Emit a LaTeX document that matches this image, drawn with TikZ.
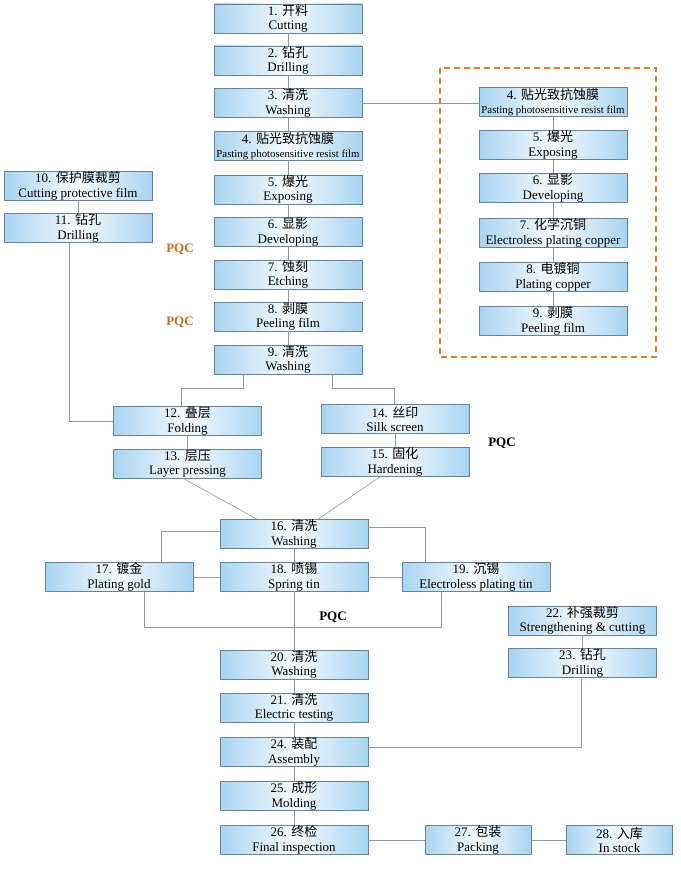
\documentclass[tikz,border=0pt]{standalone}
\usepackage{fontspec}
\setmainfont{Liberation Serif}
\newfontfamily\cjk{Noto Sans CJK SC}
\usepackage{tikz}
\usetikzlibrary{calc}
\definecolor{cajaazul}{RGB}{168,212,242}
\definecolor{cajaclaro}{RGB}{246,251,254}
\definecolor{cajaborde}{RGB}{105,130,155}
\definecolor{lineagris}{RGB}{140,152,164}
\definecolor{pqcnaranja}{RGB}{204,106,28}
\definecolor{marconaranja}{RGB}{226,124,40}
\newcommand{\zh}[1]{{\cjk #1}}

\begin{document}
\begin{tikzpicture}[x=1pt, y=1pt, line width=0.6pt,
    caja/.style={draw=cajaborde, left color=cajaazul, right color=cajaazul, middle color=cajaclaro,
      minimum width=148pt, minimum height=29pt, inner sep=0pt, align=center,
      font=\fontsize{13}{14.5}\selectfont},
    cajacorta/.style={caja, minimum width=106pt},
    enlace/.style={draw=lineagris},
    pqc/.style={font=\fontsize{13}{13}\selectfont\bfseries}]
    \useasboundingbox (0,0) rectangle (680,-880);
    \node[caja] (s1) at (288,-18.5) {1. \zh{开料}\\Cutting};
    \node[caja] (s2) at (288,-60.5) {2. \zh{钻孔}\\Drilling};
    \node[caja] (s3) at (288,-103) {3. \zh{清洗}\\Washing};
    \node[caja] (s4) at (288,-146) {4. \zh{贴光致抗蚀膜}\\{\fontsize{10.8}{14.5}\selectfont Pasting photosensitive resist film}};
    \node[caja] (s5) at (288,-189.5) {5. \zh{爆光}\\Exposing};
    \node[caja] (s6) at (288,-232) {6. \zh{显影}\\Developing};
    \node[caja] (s7) at (288,-274.5) {7. \zh{蚀刻}\\Etching};
    \node[caja] (s8) at (288,-316.5) {8. \zh{剥膜}\\Peeling film};
    \node[caja] (s9) at (288,-359.5) {9. \zh{清洗}\\Washing};
    \foreach \a/\b in {s1/s2,s2/s3,s3/s4,s4/s5,s5/s6,s6/s7,s7/s8,s8/s9}
        \draw[enlace] (\a.south) -- (\b.north);
    \node[pqc,pqcnaranja] (q1) at (180,-249) {PQC};
    \node[pqc,pqcnaranja] (q2) at (180,-322) {PQC};

    \draw[marconaranja, line width=1.5pt, dash pattern=on 6pt off 4pt] (440,-68) rectangle (656,-357);
    \node[caja] (r4) at (553,-102) {4. \zh{贴光致抗蚀膜}\\{\fontsize{10.8}{14.5}\selectfont Pasting photosensitive resist film}};
    \node[caja] (r5) at (553,-145) {5. \zh{爆光}\\Exposing};
    \node[caja] (r6) at (553,-188) {6. \zh{显影}\\Developing};
    \node[caja] (r7) at (553,-233) {7. \zh{化学沉铜}\\Electroless plating copper};
    \node[caja] (r8) at (553,-277) {8. \zh{电镀铜}\\Plating copper};
    \node[caja] (r9) at (553,-321) {9. \zh{剥膜}\\Peeling film};
    \foreach \a/\b in {r4/r5,r5/r6,r6/r7,r7/r8,r8/r9}
        \draw[enlace] (\a.south) -- (\b.north);
    \draw[enlace] (s3.east) -- (s3.east -| r4.west);

    \node[caja] (p10) at (78,-186) {10. \zh{保护膜裁剪}\\Cutting protective film};
    \node[caja] (p11) at (78,-228) {11. \zh{钻孔}\\Drilling};
    \node[caja] (p12) at (187.5,-421) {12. \zh{叠层}\\Folding};
    \node[caja] (p13) at (187.5,-463.5) {13. \zh{层压}\\Layer pressing};
    \node[caja] (p14) at (395,-419) {14. \zh{丝印}\\Silk screen};
    \node[caja] (p15) at (395,-462) {15. \zh{固化}\\Hardening};
    \node[pqc] (q3) at (502,-443) {PQC};
    \draw[enlace] (p10) -- (p11);
    \draw[enlace] ([xshift=-9pt]p11.south) |- (p12.west);
    \draw[enlace] ([xshift=-45pt]s9.south) -- ++(0,-14) -| ([xshift=-6.5pt]p12.north);
    \draw[enlace] ([xshift=44pt]s9.south) -- ++(0,-14) -| ([xshift=-1pt]p14.north);
    \draw[enlace] (p12) -- (p13);
    \draw[enlace] (p14) -- (p15);

    \node[caja] (p16) at (294,-534) {16. \zh{清洗}\\Washing};
    \node[caja] (p17) at (119,-577) {17. \zh{镀金}\\Plating gold};
    \node[caja] (p18) at (294,-577) {18. \zh{喷锡}\\Spring tin};
    \node[caja] (p19) at (476,-577) {19. \zh{沉锡}\\Electroless plating tin};
    \node[pqc] (q4) at (333,-617) {PQC};
    \draw[enlace] ([xshift=-4.5pt]p13.south) -- ([xshift=-37pt]p16.north);
    \draw[enlace] ([xshift=-15pt]p15.south) -- ([xshift=24pt]p16.north);
    \draw[enlace] ([yshift=3pt]p16.west) -| ([xshift=42pt]p17.north);
    \draw[enlace] ([yshift=7pt]p16.east) -| ([xshift=-51pt]p19.north);
    \draw[enlace] (p16) -- (p18);
    \draw[enlace] (p17) -- (p18);
    \draw[enlace] (p18) -- (p19);
    \draw[enlace] ([xshift=25pt]p17.south) -- ++(0,-35) -| ([xshift=-35pt]p19.south);

    \node[caja] (p20) at (294,-664.5) {20. \zh{清洗}\\Washing};
    \node[caja] (p21) at (294,-707.5) {21. \zh{清洗}\\Electric testing};
    \node[caja] (p24) at (294,-752) {24. \zh{装配}\\Assembly};
    \node[caja] (p25) at (294,-796) {25. \zh{成形}\\Molding};
    \node[caja] (p26) at (294,-840) {26. \zh{终检}\\Final inspection};
    \node[caja] (p22) at (582.5,-620.5) {22. \zh{补强裁剪}\\Strengthening \& cutting};
    \node[caja] (p23) at (582.5,-663) {23. \zh{钻孔}\\Drilling};
    \node[cajacorta] (p27) at (478,-840) {27. \zh{包装}\\Packing};
    \node[cajacorta] (p28) at (619.5,-840) {28. \zh{入库}\\In stock};
    \foreach \a/\b in {p18/p20,p20/p21,p21/p24,p24/p25,p25/p26}
        \draw[enlace] (\a.south) -- (\b.north);
    \draw[enlace] (p22) -- (p23);
    \draw[enlace] ([xshift=-1.5pt]p23.south) |- ([yshift=5pt]p24.east);
    \draw[enlace] (p26) -- (p27);
    \draw[enlace] (p27) -- (p28);
\end{tikzpicture}
\end{document}
